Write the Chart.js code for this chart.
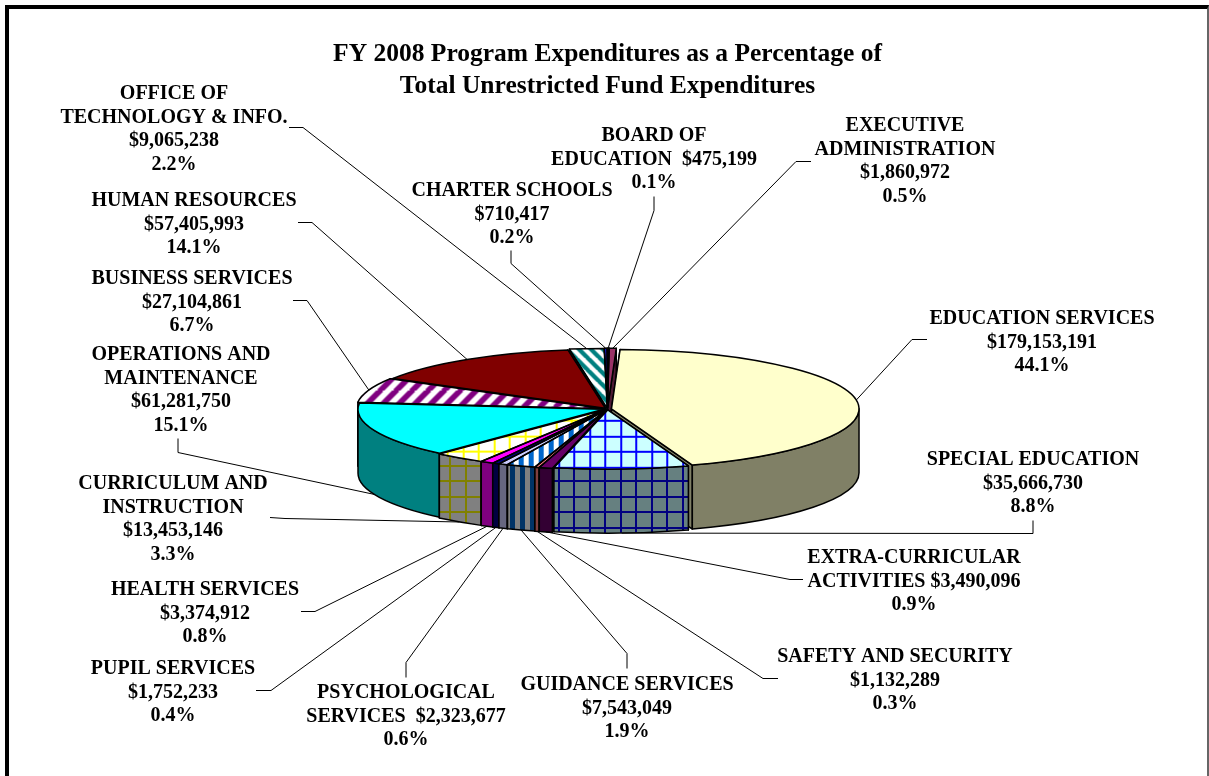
<!DOCTYPE html>
<html lang="en">
<head>
<meta charset="UTF-8">
<title>FY 2008 Program Expenditures</title>
<script src="https://cdn.jsdelivr.net/npm/chart.js"></script>
<style>
    html, body { margin: 0; padding: 0; background: #fff; overflow: hidden; }
    #wrap { position: absolute; left: 0; top: 0; width: 1209px; height: 776px; }
    #frame { position: absolute; left: 5px; top: 5px; width: 1204px; height: 780px;
             border-top: 4px solid #000; border-left: 4px solid #000; border-right: 2px solid #666; box-sizing: border-box; }
    canvas { position: absolute; left: 0; top: 0; }
</style>
</head>
<body>
<div id="wrap">
    <canvas id="pie" width="1209" height="776"></canvas>
    <div id="frame"></div>
</div>
<script>
// clockwise from the top of the pie
const programs = [
    'Education Services', 'Special Education', 'Extra-Curricular Activities', 'Safety and Security',
    'Guidance Services', 'Psychological Services', 'Pupil Services', 'Health Services',
    'Curriculum and Instruction', 'Operations and Maintenance', 'Business Services', 'Human Resources',
    'Office of Technology & Info.', 'Charter Schools', 'Board of Education', 'Executive Administration'
];
const amounts = [
    179153191, 35666730, 3490096, 1132289,
    7543049, 2323677, 1752233, 3374912,
    13453146, 61281750, 27104861, 57405993,
    9065238, 710417, 475199, 1860972
];
const labelLines = [
    ['EDUCATION SERVICES', '$179,153,191', '44.1%'],
    ['SPECIAL EDUCATION', '$35,666,730', '8.8%'],
    ['EXTRA-CURRICULAR', 'ACTIVITIES $3,490,096', '0.9%'],
    ['SAFETY AND SECURITY', '$1,132,289', '0.3%'],
    ['GUIDANCE SERVICES', '$7,543,049', '1.9%'],
    ['PSYCHOLOGICAL', 'SERVICES  $2,323,677', '0.6%'],
    ['PUPIL SERVICES', '$1,752,233', '0.4%'],
    ['HEALTH SERVICES', '$3,374,912', '0.8%'],
    ['CURRICULUM AND', 'INSTRUCTION', '$13,453,146', '3.3%'],
    ['OPERATIONS AND', 'MAINTENANCE', '$61,281,750', '15.1%'],
    ['BUSINESS SERVICES', '$27,104,861', '6.7%'],
    ['HUMAN RESOURCES', '$57,405,993', '14.1%'],
    ['OFFICE OF', 'TECHNOLOGY & INFO.', '$9,065,238', '2.2%'],
    ['CHARTER SCHOOLS', '$710,417', '0.2%'],
    ['BOARD OF', 'EDUCATION  $475,199', '0.1%'],
    ['EXECUTIVE', 'ADMINISTRATION', '$1,860,972', '0.5%']
];
const titleLines = [
    'FY 2008 Program Expenditures as a Percentage of',
    'Total Unrestricted Fund Expenditures'
];

// where each label sits: centre x, first baseline
const labelSpots = [
    [1042, 324], [1033, 465], [914, 563], [895, 662],
    [627, 690], [406, 698], [173, 674], [205, 595],
    [173, 489], [181, 360], [192, 284], [194, 206],
    [174, 99], [512, 196], [654, 141], [905, 131]
];
// leader line: stub start, knee; the far end comes from the slice itself
const leaderStubs = [
    [927, 339, 912, 339], [1033, 520, 1033, 533], [803, 579, 790, 579], [778, 678, 763, 678],
    [627, 668, 627, 653], [406, 677, 406, 662], [256, 690, 271, 690], [301, 611, 315, 611],
    [270, 517, 285, 518], [178, 438, 178, 452], [293, 300, 307, 300], [298, 222, 312, 222],
    [289, 127, 303, 127], [511, 250, 511, 263], [654, 196, 654, 210], [811, 161, 796, 161]
];

const SQUASH = 0.24;    // ellipse height / width of the tilted pie
const DEPTH = 64;       // wall height in px
const RADIUS = 245;

function makeTile(size, bg, draw) {
    const c = document.createElement('canvas');
    c.width = c.height = size;
    const g = c.getContext('2d');
    g.fillStyle = bg;
    g.fillRect(0, 0, size, size);
    draw(g, size);
    return g.canvas;
}
function gridTile(fg, bg) {
    return makeTile(31, bg, (g, s) => {
        g.fillStyle = fg;
        [0, 15].forEach(p => {
            g.fillRect(p, 0, 2, s);
            g.fillRect(0, p, s, 2);
        });
    });
}
function stripeTile(fg, bg, period) {
    return makeTile(period, bg, (g, s) => {
        g.fillStyle = fg;
        g.fillRect(0, 0, Math.round(s / 2), s);
    });
}
function diagonalTile(fg, bg, period, up) {
    return makeTile(period, bg, (g, s) => {
        g.strokeStyle = fg;
        g.lineWidth = s * 0.36;
        for (let i = -1; i <= 1; i++) {
            g.beginPath();
            if (up) {
                g.moveTo(i * s - 1, s + 1);
                g.lineTo(i * s + s + 1, -1);
            } else {
                g.moveTo(i * s - 1, -1);
                g.lineTo(i * s + s + 1, s + 1);
            }
            g.stroke();
        }
    });
}

const ctx = document.getElementById('pie').getContext('2d');

// a tile or a flat colour, for each face of each slice
const topFaces = [
    '#FFFFCC', gridTile('#0000FF', '#CCFFFF'), '#660066', '#FF8080',
    stripeTile('#0066CC', '#FFFFFF', 10), '#CCCCFF', '#000080', '#FF00FF',
    gridTile('#FFFF00', '#FFFFFF'), '#00FFFF', diagonalTile('#800080', '#FFFFFF', 16, true), '#800000',
    diagonalTile('#008080', '#FFFFFF', 12, false), '#0000FF', '#000080', '#993366'
];
const wallFaces = [
    '#808066', gridTile('#000080', '#668080'), '#330033', '#804040',
    stripeTile('#003366', '#808080', 10), '#666680', '#000040', '#800080',
    gridTile('#808000', '#808080'), '#008080', '#400040', '#400000',
    '#004040', '#000080', '#000040', '#4D1A33'
];

const wallFills = wallFaces.map(f => typeof f === 'string' ? f : ctx.createPattern(f, 'repeat'));

function sliceGeom(arc) {
    const p = arc.getProps(['x', 'y', 'startAngle', 'endAngle', 'outerRadius'], true);
    const shift = (arc.options.offset || 0) / 4;
    const mid = (p.startAngle + p.endAngle) / 2;
    const fix = 1 - Math.sin(Math.min(Math.PI, p.endAngle - p.startAngle));
    return {
        x: p.x + Math.cos(mid) * shift,
        y: p.y + Math.sin(mid) * shift,
        r: p.outerRadius + shift * fix,
        a0: p.startAngle,
        a1: p.endAngle,
        mid
    };
}

function squash(c, cy) {
    c.translate(0, cy);
    c.scale(1, SQUASH);
    c.translate(0, -cy);
}

function radialWall(c, g, angle, cy) {
    c.save();
    squash(c, cy);
    c.beginPath();
    c.moveTo(g.x, g.y);
    c.lineTo(g.x + Math.cos(angle) * g.r, g.y + Math.sin(angle) * g.r);
    c.translate(0, DEPTH / SQUASH);
    c.lineTo(g.x + Math.cos(angle) * g.r, g.y + Math.sin(angle) * g.r);
    c.lineTo(g.x, g.y);
    c.closePath();
    c.restore();
    c.fill();
    c.stroke();
}

function rimWall(c, g, cy) {
    const from = Math.max(g.a0, 0);
    const to = Math.min(g.a1, Math.PI);
    if (to <= from) return;
    c.save();
    squash(c, cy);
    c.beginPath();
    c.arc(g.x, g.y, g.r, from, to);
    c.translate(0, DEPTH / SQUASH);
    c.arc(g.x, g.y, g.r, to, from, true);
    c.closePath();
    c.restore();
    c.fill();
    c.stroke();
}

const pie3d = {
    id: 'pie3d',
    beforeDatasetsDraw(chart) {
        const c = chart.ctx;
        const arcs = chart.getDatasetMeta(0).data;
        const cy = arcs[0].y;
        const order = arcs.map((a, i) => i).sort((m, n) =>
            Math.sin(sliceGeom(arcs[m]).mid) - Math.sin(sliceGeom(arcs[n]).mid));

        c.save();
        c.strokeStyle = '#000';
        c.lineWidth = 1.5;
        c.lineJoin = 'round';
        order.forEach(i => {
            const g = sliceGeom(arcs[i]);
            c.fillStyle = wallFills[i];
            radialWall(c, g, g.a0, cy);
            radialWall(c, g, g.a1, cy);
            rimWall(c, g, cy);
        });
        c.restore();

        // tilt the library's own slices
        c.save();
        squash(c, cy);
    },
    afterDatasetsDraw(chart) {
        const c = chart.ctx;
        c.restore();

        const arcs = chart.getDatasetMeta(0).data;
        const cy = arcs[0].y;

        // outlines are stroked untilted so the line stays even all round
        c.save();
        c.strokeStyle = '#000';
        c.lineWidth = 1.5;
        c.lineJoin = 'round';
        arcs.forEach(a => {
            const g = sliceGeom(a);
            c.save();
            squash(c, cy);
            c.beginPath();
            c.moveTo(g.x, g.y);
            c.arc(g.x, g.y, g.r, g.a0, g.a1);
            c.closePath();
            c.restore();
            c.stroke();
        });
        c.restore();

        // leaders
        c.save();
        c.strokeStyle = '#000';
        c.lineWidth = 1;
        arcs.forEach((a, i) => {
            const g = sliceGeom(a);
            const s = leaderStubs[i];
            const ex = g.x + Math.cos(g.mid) * g.r;
            let ey = cy + (g.y + Math.sin(g.mid) * g.r - cy) * SQUASH;
            if (Math.sin(g.mid) > 0) ey += DEPTH;
            c.beginPath();
            c.moveTo(s[0], s[1] + 0.5);
            c.lineTo(s[2], s[3] + 0.5);
            c.lineTo(ex, ey);
            c.stroke();
        });
        c.restore();

        // labels
        c.save();
        c.fillStyle = '#000';
        c.font = 'bold 20px "Liberation Serif"';
        c.textAlign = 'center';
        c.textBaseline = 'alphabetic';
        labelLines.forEach((lines, i) => {
            lines.forEach((t, n) => {
                c.fillText(t, labelSpots[i][0], labelSpots[i][1] + n * 23.6);
            });
        });
        c.restore();
    }
};

// top tiles have to undo the tilt so the hatching stays square on screen
function topFill(face) {
    if (typeof face === 'string') return face;
    const p = ctx.createPattern(face, 'repeat');
    p.setTransform(new DOMMatrix().scale(1, 1 / SQUASH));
    return p;
}

new Chart(ctx, {
    type: 'pie',
    data: {
        labels: programs,
        datasets: [{
            data: amounts,
            backgroundColor: topFaces.map(topFill),
            borderWidth: 0,
            offset: 16,
            clip: false
        }]
    },
    options: {
        responsive: false,
        animation: false,
        events: [],
        rotation: 2,
        radius: RADIUS,
        layout: { padding: { left: 6, top: 0, right: 0, bottom: 60 } },
        plugins: {
            legend: { display: false },
            tooltip: { enabled: false },
            title: {
                display: true,
                text: titleLines,
                color: '#000',
                font: { family: '"Liberation Serif"', size: 25.5, weight: 'bold', lineHeight: 1.255 },
                padding: { top: 38, bottom: 0 }
            }
        }
    },
    plugins: [pie3d]
});
</script>
</body>
</html>
